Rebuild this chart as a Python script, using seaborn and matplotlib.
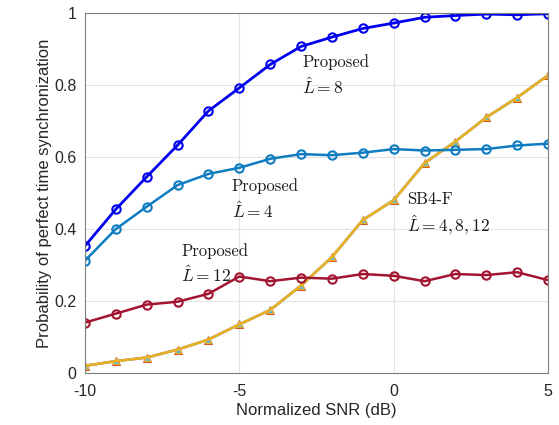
import numpy as np
import pandas as pd
import matplotlib
matplotlib.use("Agg")
import matplotlib.pyplot as plt
import seaborn as sns

# Datos
snr = list(range(-10, 6))
prop_L8 = [0.353, 0.455, 0.545, 0.633, 0.728, 0.792, 0.857, 0.907, 0.933, 0.957,
           0.972, 0.988, 0.993, 0.997, 0.995, 0.998]
prop_L4 = [0.312, 0.400, 0.462, 0.522, 0.553, 0.570, 0.595, 0.608, 0.605, 0.612,
           0.622, 0.618, 0.620, 0.622, 0.632, 0.637]
prop_L12 = [0.140, 0.165, 0.190, 0.198, 0.220, 0.268, 0.255, 0.265, 0.262, 0.275,
            0.270, 0.255, 0.275, 0.272, 0.280, 0.258]
sb4f = [0.020, 0.033, 0.043, 0.065, 0.093, 0.135, 0.175, 0.243, 0.322, 0.425,
        0.480, 0.583, 0.643, 0.710, 0.765, 0.827]

sns.set_style("white")
plt.rcParams['font.family'] = ['Liberation Sans', 'DejaVu Sans']
plt.rcParams['mathtext.fontset'] = 'cm'
plt.rcParams['axes.unicode_minus'] = False

fig = plt.figure(figsize=(5.59, 4.25), dpi=100)
ax = fig.add_axes([85 / 559, 1 - 373 / 425, 463 / 559, 360 / 425])

# SB4-F (tres curvas superpuestas, L = 4, 8, 12)
sns.lineplot(x=snr, y=sb4f, ax=ax, color='#D95319', lw=1.8, marker='^',
             markersize=6, markerfacecolor='#D95319', markeredgecolor='#D95319')
sns.lineplot(x=snr, y=sb4f, ax=ax, color='#4DBEEE', lw=1.8, marker='^',
             markersize=5, markerfacecolor='#4DBEEE', markeredgecolor='#4DBEEE')
sns.lineplot(x=snr, y=sb4f, ax=ax, color='#EDB120', lw=1.8, marker='^',
             markersize=4, markerfacecolor='none', markeredgecolor='#EDB120')

# Proposed
sns.lineplot(x=snr, y=prop_L12, ax=ax, color='#A2142F', lw=1.8, marker='o',
             markersize=6, markerfacecolor='none', markeredgecolor='#A2142F', markeredgewidth=1.5)
sns.lineplot(x=snr, y=prop_L4, ax=ax, color='#0E7CC0', lw=1.8, marker='o',
             markersize=6, markerfacecolor='none', markeredgecolor='#0E7CC0', markeredgewidth=1.5)
sns.lineplot(x=snr, y=prop_L8, ax=ax, color='#0000EE', lw=2, marker='o',
             markersize=6, markerfacecolor='none', markeredgecolor='#0000EE', markeredgewidth=1.5)

ax.set_xlim(-10, 5)
ax.set_ylim(0, 1)
ax.set_xticks([-10, -5, 0, 5])
ax.set_yticks([0, 0.2, 0.4, 0.6, 0.8, 1])
ax.set_yticklabels(['0', '0.2', '0.4', '0.6', '0.8', '1'])
ax.grid(True, color='#E3E3E3', lw=0.8)
ax.tick_params(direction='in', length=4, labelsize=11.5, colors='#262626')
ax.tick_params(axis='x', pad=8)
ax.tick_params(axis='y', pad=6)
for s in ax.spines.values():
    s.set_color('#7F7F7F')
    s.set_linewidth(0.8)
ax.set_xlabel('Normalized SNR (dB)', fontsize=12, color='#262626', labelpad=3)
ax.set_ylabel('Probability of perfect time synchronization', fontsize=12,
              color='#262626', labelpad=2)

# Anotaciones
txt = dict(family='cmr10', va='top', ha='left', color='#1a1a1a')
ax.text(-2.97, 0.885, 'Proposed', fontsize=12, **txt)
ax.text(-2.97, 0.825, '$\\hat{L}=8$', fontsize=12.5, **txt)
ax.text(-5.24, 0.54, 'Proposed', fontsize=12, **txt)
ax.text(-5.24, 0.48, '$\\hat{L}=4$', fontsize=12.5, **txt)
ax.text(-6.89, 0.36, 'Proposed', fontsize=12, **txt)
ax.text(-6.89, 0.302, '$\\hat{L}=12$', fontsize=12.5, **txt)
ax.text(0.43, 0.505, 'SB4-F', fontsize=12, **txt)
ax.text(0.43, 0.445, '$\\hat{L}=4,8,12$', fontsize=12.5, **txt)

fig.savefig('out.png', dpi=100)
